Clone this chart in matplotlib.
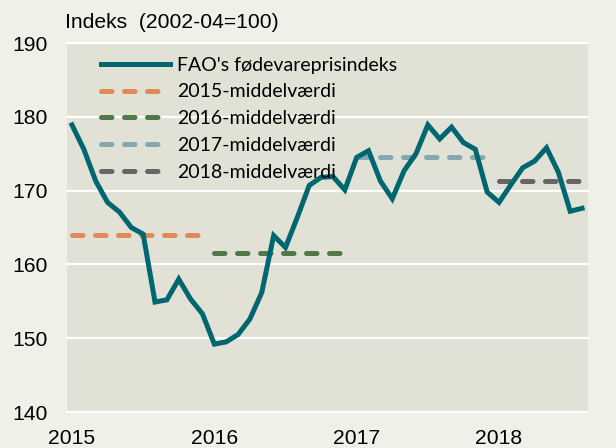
import matplotlib
matplotlib.use("Agg")
import matplotlib.pyplot as plt

# FAO food price index, monthly, Jan 2015 - Sep 2018
fao_2015 = [178.9, 175.6, 171.3, 168.4, 167.1, 165.0, 164.1, 154.9, 155.2, 158.0, 155.3, 153.3]
fao_2016 = [149.2, 149.5, 150.5, 152.6, 156.2, 163.9, 162.3, 166.4, 170.7, 171.8, 171.9, 170.1]
fao_2017 = [174.5, 175.4, 171.3, 168.9, 172.7, 175.0, 178.9, 177.0, 178.6, 176.5, 175.6, 169.8]
fao_2018 = [168.4, 170.8, 173.1, 174.0, 175.8, 172.5, 167.2, 167.6]

years = [2015, 2016, 2017, 2018]
year_means = [164.0, 161.5, 174.5, 171.3]
mean_labels = ["2015-middelværdi", "2016-middelværdi", "2017-middelværdi", "2018-middelværdi"]
mean_colors = ["#e08a58", "#52784a", "#84a8b2", "#666666"]

series = fao_2015 + fao_2016 + fao_2017 + fao_2018
months = list(range(len(series)))

bg = "#f0f0e9"
plot_bg = "#e1e1d6"
teal = "#006771"

fig = plt.figure(figsize=(6.16, 4.48), dpi=100, facecolor=bg)
ax = fig.add_axes([67 / 616, 36 / 448, 521 / 616, 369 / 448])
ax.set_facecolor(plot_bg)

for v in range(140, 191, 10):
    ax.axhline(v, color="white", lw=1.6, zorder=1, clip_on=False)

ax.plot(months, series, color=teal, lw=3.6, solid_joinstyle="miter",
        label="FAO's fødevareprisindeks", zorder=3)

yearly = [fao_2015, fao_2016, fao_2017, fao_2018]
for i, (m, lab, col) in enumerate(zip(year_means, mean_labels, mean_colors)):
    start = 12 * i
    end = start + len(yearly[i]) - 1
    if i == 3:
        end = start + 8.2
    ax.plot([start, end], [m, m], color=col, lw=3.6, dashes=(2.1, 2.5),
            dash_capstyle="round", label=lab, zorder=2)

ax.set_xlim(-0.42, 43.5)
ax.set_ylim(140, 190)
ax.set_yticks(range(140, 191, 10))
ax.set_xticks([0, 12, 24, 36])
ax.set_xticklabels([str(y) for y in years])
for s in ax.spines.values():
    s.set_visible(False)
ax.tick_params(length=0, labelsize=15.2, colors="black")
ax.tick_params(axis="y", pad=14)
ax.tick_params(axis="x", pad=12)
for t in ax.get_xticklabels() + ax.get_yticklabels():
    t.set_fontfamily("Liberation Sans")

fig.text(65 / 616, 1 - 22 / 448, "Indeks  (2002-04=100)", fontsize=15.2,
         family="Liberation Sans", va="center", ha="left")

leg = ax.legend(loc="upper left", bbox_to_anchor=(0.04, 1.0), frameon=False,
                prop={"family": "Lato", "size": 14}, handlelength=3.5,
                handletextpad=0.38, labelspacing=0.5, borderaxespad=0.3)

fig.savefig("out.png", dpi=100, facecolor=bg)
